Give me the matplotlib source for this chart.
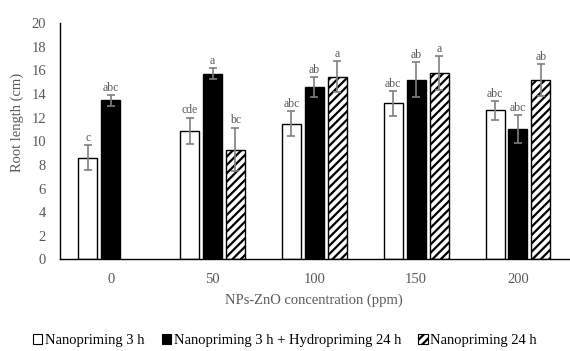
import numpy as np
import matplotlib
matplotlib.use('Agg')
import matplotlib.pyplot as plt
from matplotlib.patches import Patch

plt.rcParams['font.family'] = ['Liberation Serif', 'DejaVu Serif']
plt.rcParams['hatch.linewidth'] = 1.6

concentrations = ['0', '50', '100', '150', '200']
series = ['Nanopriming 3 h', 'Nanopriming 3 h + Hydropriming 24 h', 'Nanopriming 24 h']

nano3 = [8.6, 10.9, 11.5, 13.2, 12.6]
nano3_err = [1.05, 1.1, 1.04, 1.04, 0.82]
nano3_letters = ['c', 'cde', 'abc', 'abc', 'abc']

nano3_hydro = [13.45, 15.7, 14.6, 15.2, 11.05]
nano3_hydro_err = [0.45, 0.47, 0.82, 1.5, 1.16]
nano3_hydro_letters = ['abc', 'a', 'ab', 'ab', 'abc']

nano24 = [np.nan, 9.3, 15.45, 15.75, 15.15]
nano24_err = [np.nan, 1.85, 1.3, 1.45, 1.35]
nano24_letters = ['', 'bc', 'a', 'a', 'ab']

gray = '#595959'
errc = '#7f7f7f'

fig = plt.figure(figsize=(5.7, 3.51), dpi=100)
ax = fig.add_axes([0.105, 0.2607, 0.893, 0.6738])

x = np.arange(len(concentrations))
w = 0.186
off = 0.225

groups = [
    (nano3, nano3_err, nano3_letters, -off, dict(color='white', edgecolor='black')),
    (nano3_hydro, nano3_hydro_err, nano3_hydro_letters, 0, dict(color='black', edgecolor='black')),
    (nano24, nano24_err, nano24_letters, off, dict(color='white', edgecolor='black', hatch='////')),
]

for vals, errs, letters, dx, style in groups:
    ax.bar(x + dx, vals, width=w, linewidth=1.0, zorder=2, **style)
    ax.errorbar(x + dx, vals, yerr=errs, fmt='none', ecolor=errc, elinewidth=1.2,
                capsize=3, capthick=1.2, zorder=3)
    for xi, v, e, lab in zip(x + dx, vals, errs, letters):
        if lab:
            ax.text(xi, v + e + 0.1, lab, ha='center', va='bottom', fontsize=8.5, color=gray)

ax.set_xlim(-0.5, 4.5)
ax.set_ylim(0, 20)
ax.set_yticks(np.arange(0, 21, 2))
ax.set_xticks(x)
ax.set_xticklabels(concentrations)
ax.tick_params(axis='both', length=0, labelsize=10.5, colors=gray)
ax.tick_params(axis='y', pad=10)
ax.tick_params(axis='x', pad=10)
for s in ['top', 'right']:
    ax.spines[s].set_visible(False)
ax.spines['left'].set_color('black')
ax.spines['bottom'].set_color('black')
ax.spines['left'].set_linewidth(1.0)
ax.spines['bottom'].set_linewidth(1.0)

ax.set_ylabel('Root length (cm)', fontsize=10.5, color=gray)
ax.yaxis.set_label_coords(-0.07, 0.58)
ax.set_xlabel('NPs-ZnO concentration (ppm)', fontsize=10.5, color=gray, labelpad=5)

handles = [
    Patch(facecolor='white', edgecolor='black', linewidth=0.8),
    Patch(facecolor='black', edgecolor='black', linewidth=0.8),
    Patch(facecolor='white', edgecolor='black', hatch='////', linewidth=0.8),
]
fig.legend(handles, series, loc='center', bbox_to_anchor=(0.5, 0.03), ncol=3, frameon=False,
           fontsize=10.5, handlelength=0.65, handleheight=0.65, handletextpad=0.2,
           columnspacing=1.15, labelcolor='black')

fig.savefig('out.png', dpi=100)
